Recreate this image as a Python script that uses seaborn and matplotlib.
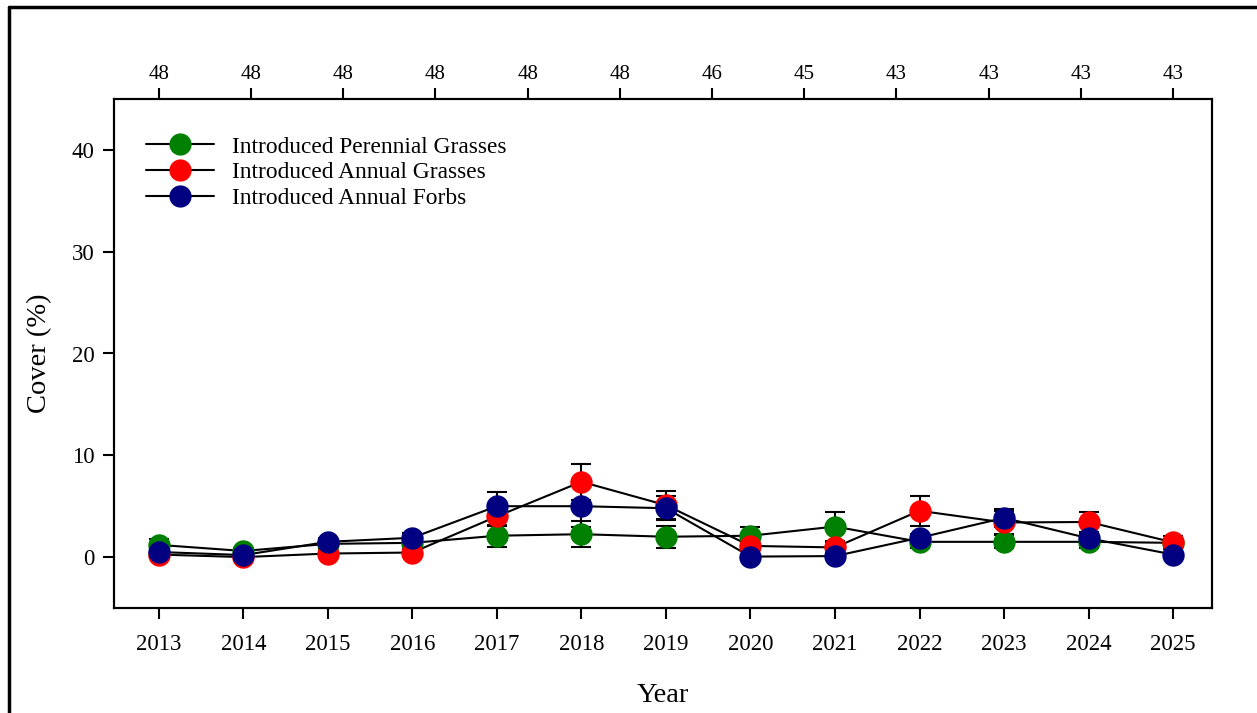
import numpy as np
import pandas as pd
import matplotlib
matplotlib.use("Agg")
import matplotlib.pyplot as plt
from matplotlib.lines import Line2D
import seaborn as sns

years = [2013, 2014, 2015, 2016, 2017, 2018, 2019, 2020, 2021, 2022, 2023, 2024, 2025]
sample_n = [48, 48, 48, 48, 48, 48, 46, 45, 43, 43, 43, 43]

perennial_grass = [1.2, 0.6, 1.3, 1.4, 2.1, 2.25, 2.0, 2.1, 3.0, 1.5, 1.5, 1.5, 1.4]
perennial_grass_se = [0.6, 0.3, 0.4, 0.4, 1.1, 1.25, 1.1, 0.9, 1.45, 0.6, 0.65, 0.6, 0.4]
annual_grass = [0.25, 0.0, 0.35, 0.45, 4.0, 7.4, 5.1, 1.1, 0.95, 4.55, 3.4, 3.45, 1.45]
annual_grass_se = [0.2, 0.1, 0.3, 0.3, 0.9, 1.75, 1.4, 0.4, 0.5, 1.45, 1.1, 1.0, 0.65]
annual_forb = [0.5, 0.2, 1.5, 1.9, 5.0, 5.0, 4.8, 0.05, 0.1, 1.9, 3.85, 1.85, 0.25]
annual_forb_se = [0.3, 0.1, 0.4, 0.5, 1.4, 2.0, 1.2, 0.1, 0.1, 0.4, 0.9, 0.5, 0.1]

series_names = ["Introduced Perennial Grasses", "Introduced Annual Grasses", "Introduced Annual Forbs"]
series_colors = ["#008000", "#ff0000", "#000080"]

frames = []
for name, vals, se in [(series_names[0], perennial_grass, perennial_grass_se),
                       (series_names[1], annual_grass, annual_grass_se),
                       (series_names[2], annual_forb, annual_forb_se)]:
    frames.append(pd.DataFrame({"Year": years, "Cover": vals, "SE": se, "Group": name}))
df = pd.concat(frames, ignore_index=True)

sns.set_theme(style="ticks")
plt.rcParams['font.family'] = ['Liberation Serif', 'DejaVu Serif']
plt.rcParams['text.color'] = 'black'
plt.rcParams['axes.labelcolor'] = 'black'
plt.rcParams['xtick.color'] = 'black'
plt.rcParams['ytick.color'] = 'black'

fig = plt.figure(figsize=(12.57, 7.13), dpi=100)
ax = fig.add_axes([114 / 1257, 1 - 608 / 713, (1212 - 114) / 1257, (608 - 99) / 713])

# error bars
for name in series_names:
    d = df[df.Group == name]
    ax.errorbar(d.Year, d.Cover, yerr=d.SE, fmt="none", ecolor="black",
                elinewidth=1.5, capsize=7, capthick=1.5, zorder=2)

# connecting lines
sns.lineplot(data=df, x="Year", y="Cover", units="Group", estimator=None,
             color="black", linewidth=1.5, ax=ax, zorder=3, legend=False)

# markers
for z, (name, col) in enumerate(zip(series_names, series_colors)):
    d = df[df.Group == name]
    sns.scatterplot(data=d, x="Year", y="Cover", color=col, s=260, linewidth=0,
                    ax=ax, zorder=4 + z, legend=False)

ax.set_xlim(2012.47, 2025.46)
ax.set_ylim(-5, 45)
ax.set_xticks(years)
ax.set_xticklabels([str(y) for y in years], fontsize=16.5)
ax.set_yticks([0, 10, 20, 30, 40])
ax.set_yticklabels(["0", "10", "20", "30", "40"], fontsize=16.5)
ax.tick_params(axis="x", direction="out", length=8, width=1.5, color="black", pad=11)
ax.tick_params(axis="y", direction="out", length=8, width=1.5, color="black", pad=6)
ax.set_xlabel("Year", fontsize=20.5, labelpad=20)
ax.set_ylabel("Cover (%)", fontsize=20.5, labelpad=14)
for sp in ax.spines.values():
    sp.set_linewidth(1.5)
    sp.set_color("black")
    sp.set_visible(True)

ax2 = ax.twiny()
ax2.set_xlim(ax.get_xlim())
top_pos = np.linspace(years[0], years[-1], len(sample_n))
ax2.set_xticks(top_pos)
ax2.set_xticklabels([str(n) for n in sample_n], fontsize=15)
ax2.tick_params(axis="x", direction="out", length=8, width=1.5, color="black", pad=3)
for sp in ax2.spines.values():
    sp.set_linewidth(1.5)
    sp.set_color("black")

handles = [Line2D([0], [0], color="black", linewidth=1.5, marker="o", markersize=16,
                  markerfacecolor=c, markeredgewidth=0) for c in series_colors]
ax.legend(handles, series_names, loc="upper left", bbox_to_anchor=(0.021, 0.945),
          frameon=False, fontsize=16.8, handlelength=2.9, handletextpad=0.75,
          labelspacing=0.18, borderaxespad=0)

# figure border (top and left edges visible)
fig.add_artist(Line2D([9 / 1257, 9 / 1257], [0, 1 - 7 / 713], transform=fig.transFigure,
                      color="black", linewidth=2.5))
fig.add_artist(Line2D([9 / 1257, 1], [1 - 7 / 713, 1 - 7 / 713], transform=fig.transFigure,
                      color="black", linewidth=2.5))

fig.savefig("out.png", dpi=100)
